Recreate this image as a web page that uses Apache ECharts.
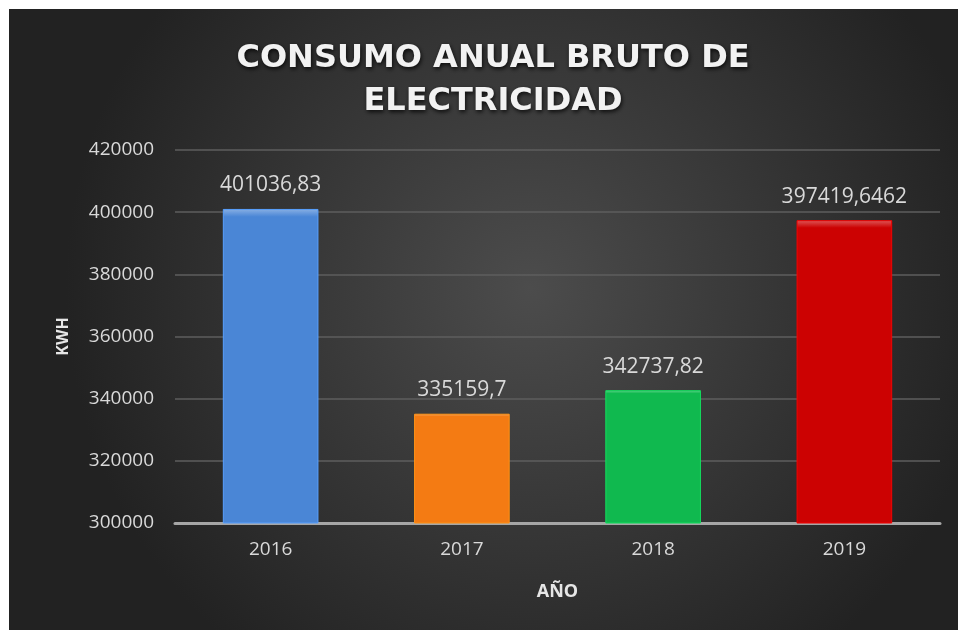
<!DOCTYPE html>
<html>
<head>
<meta charset="utf-8">
<script src="https://cdn.jsdelivr.net/npm/echarts@6/dist/echarts.min.js"></script>
<style>
  html, body { margin: 0; padding: 0; background: #fff; }
  #chart { position: absolute; left: 9px; top: 9px; width: 949px; height: 621px; }
</style>
</head>
<body>
<div id="chart"></div>
<script>
// datos
const years = ["2016", "2017", "2018", "2019"];
const consumo = [401036.83, 335159.7, 342737.82, 397419.6462];
const barColors = ["#4a86d6", "#f47b13", "#10b94f", "#cc0202"];
const yTicks = [300000, 320000, 340000, 360000, 380000, 400000, 420000];

const chart = echarts.init(document.getElementById("chart"));

// relieve sencillo en la parte superior de cada barra
function barFill(c) {
  return new echarts.graphic.LinearGradient(0, 0, 0, 1, [
    { offset: 0, color: echarts.color.lift(c, 0.35) },
    { offset: 0.025, color: c },
    { offset: 1, color: c }
  ]);
}

chart.setOption({
  backgroundColor: {
    type: "radial",
    x: 0.55, y: 0.45, r: 0.75,
    colorStops: [
      { offset: 0, color: "#4c4c4c" },
      { offset: 1, color: "#222222" }
    ]
  },
  title: {
    text: "CONSUMO ANUAL BRUTO DE\nELECTRICIDAD",
    left: 479,
    textAlign: "center",
    top: 23,
    textStyle: {
      color: "#f2f2f2",
      fontFamily: "DejaVu Sans",
      fontWeight: "bold",
      fontSize: 32,
      lineHeight: 43,
      textShadowColor: "rgba(0,0,0,0.8)",
      textShadowBlur: 4,
      textShadowOffsetX: 1,
      textShadowOffsetY: 2
    }
  },
  grid: { left: 166, right: 18, top: 141, bottom: 107 },
  xAxis: {
    type: "category",
    data: years,
    name: "AÑO",
    nameLocation: "middle",
    nameGap: 60,
    nameTextStyle: { color: "#e6e6e6", fontFamily: "Open Sans", fontWeight: "bold", fontSize: 18 },
    axisLine: { lineStyle: { color: "#a6a6a6", width: 3 } },
    axisTick: { show: false },
    axisLabel: { color: "#d9d9d9", fontFamily: "Open Sans", fontSize: 19, margin: 17 }
  },
  yAxis: {
    type: "value",
    min: yTicks[0],
    max: yTicks[yTicks.length - 1],
    interval: 20000,
    name: "KWH",
    nameLocation: "middle",
    nameGap: 104,
    nameRotate: 90,
    nameTextStyle: { color: "#e6e6e6", fontFamily: "Open Sans", fontWeight: "bold", fontSize: 16 },
    axisLine: { show: false },
    axisTick: { show: false },
    axisLabel: { color: "#d9d9d9", fontFamily: "Open Sans", fontSize: 19, margin: 21, formatter: v => String(v) },
    splitLine: { lineStyle: { color: "#5e5e5e", width: 1.5 } }
  },
  series: [
    {
      type: "bar",
      barWidth: "50%",
      data: consumo.map((v, i) => ({
        value: v,
        itemStyle: { color: barFill(barColors[i]), borderColor: echarts.color.lift(barColors[i], -0.2), borderWidth: 1 }
      })),
      label: {
        show: true,
        position: "top",
        distance: 13,
        color: "#d9d9d9",
        fontFamily: "Open Sans",
        fontSize: 21,
        formatter: p => String(p.value).replace(".", ",")
      }
    }
  ]
});
</script>
</body>
</html>
